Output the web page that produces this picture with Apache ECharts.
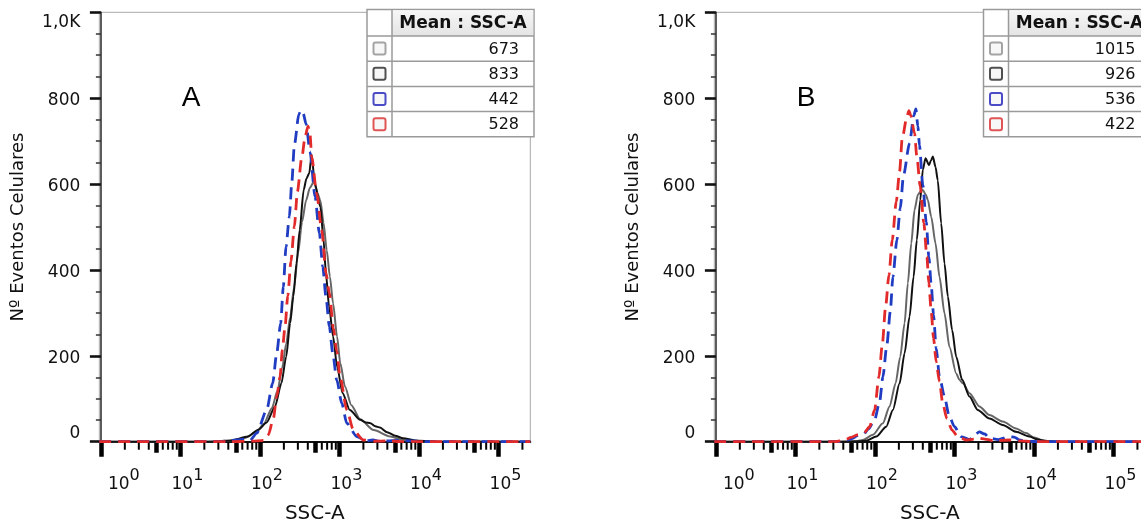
<!DOCTYPE html>
<html><head><meta charset="utf-8">
<script src="https://cdn.jsdelivr.net/npm/echarts@6/dist/echarts.min.js"></script>
<style>html,body{margin:0;padding:0;background:#fff}#c{width:1141px;height:529px}</style>
</head><body><div id="c"></div>
<script>
// ---------- data (x = log10(SSC-A), y = cell count) ----------
const decadeTicks = [0, 1, 2, 3, 4, 5];          // 10^0 ... 10^5
const midTickValues = [5, 50, 500, 5000, 50000]; // thick mid-decade ticks (raw SSC)
const minorMultipliers = [2, 3, 4, 6, 7, 8, 9];
const yTicks = [0, 200, 400, 600, 800, 1000];
const yTickText = ['0', '200', '400', '600', '800', '1,0K'];
const panelNames = ['A', 'B'];
const tableHeader = 'Mean : SSC-A';
const meansA = [673, 833, 442, 528];
const meansB = [1015, 926, 536, 422];

const A_gray = [[-0.02,0],[1.3,0],[1.6,2],[1.8,8],[1.95,22],[2.05,42],[2.15,78],[2.22,118],[2.28,172],[2.33,228],[2.38,290],[2.43,360],[2.48,440],[2.53,512],[2.58,562],[2.63,592],[2.68,606],[2.72,580],[2.76,562],[2.80,510],[2.84,446],[2.88,384],[2.92,322],[2.97,245],[3.01,183],[3.07,128],[3.15,85],[3.26,52],[3.43,27],[3.64,12],[3.8,4],[4.0,1],[4.3,0],[5.4,0]];
const A_black = [[-0.02,0],[1.4,0],[1.65,3],[1.85,12],[1.98,28],[2.085,45],[2.19,82],[2.27,136],[2.33,198],[2.38,276],[2.42,338],[2.46,415],[2.50,493],[2.55,586],[2.585,613],[2.62,625],[2.65,668],[2.69,602],[2.76,547],[2.80,470],[2.83,392],[2.87,314],[2.92,245],[2.97,175],[3.04,113],[3.13,74],[3.26,51],[3.33,45],[3.39,43],[3.45,36],[3.51,33],[3.6,22],[3.7,14],[3.8,8],[3.95,3],[4.2,0],[5.4,0]];
const A_blue = [[-0.02,0],[1.5,0],[1.7,4],[1.8,6],[1.875,3],[1.96,20],[2.085,74],[2.16,136],[2.211,206],[2.261,276],[2.294,361],[2.328,454],[2.37,524],[2.40,602],[2.433,691],[2.49,763],[2.515,772],[2.545,764],[2.58,740],[2.63,675],[2.693,571],[2.748,485],[2.79,408],[2.83,338],[2.873,268],[2.916,206],[2.966,144],[3.03,89],[3.092,43],[3.218,12],[3.34,2],[3.42,4],[3.5,1],[3.75,3],[3.9,2],[4.1,0],[5.4,0]];
const A_red = [[-0.02,0],[1.6,0],[1.9,1],[2.05,3],[2.106,16],[2.169,54],[2.211,105],[2.253,151],[2.282,214],[2.316,268],[2.35,340],[2.39,420],[2.433,501],[2.471,582],[2.525,660],[2.57,712],[2.605,735],[2.63,715],[2.651,664],[2.714,578],[2.777,493],[2.832,392],[2.873,346],[2.924,264],[2.966,210],[3.008,151],[3.092,74],[3.176,27],[3.30,4],[3.45,1],[3.6,2],[3.8,0],[5.4,0]];

const B_gray = [[-0.02,0],[1.5,0],[1.75,1],[1.85,4],[1.975,16],[2.1,43],[2.184,82],[2.26,136],[2.318,198],[2.373,276],[2.414,369],[2.457,462],[2.498,540],[2.54,575],[2.58,584],[2.602,586],[2.64,575],[2.665,563],[2.708,524],[2.762,462],[2.812,384],[2.875,299],[2.937,221],[3.022,159],[3.06,145],[3.105,136],[3.189,113],[3.314,82],[3.44,62],[3.607,47],[3.775,31],[3.9,20],[4.0,10],[4.1,4],[4.2,1],[4.35,0],[5.4,0]];
const B_black = [[-0.02,0],[1.6,0],[1.8,1],[1.89,2],[2.017,12],[2.142,35],[2.226,74],[2.31,136],[2.373,206],[2.435,291],[2.486,384],[2.527,470],[2.57,563],[2.602,633],[2.636,660],[2.68,644],[2.705,655],[2.728,664],[2.762,640],[2.79,609],[2.833,509],[2.875,415],[2.917,338],[2.971,260],[3.022,198],[3.097,144],[3.189,105],[3.293,74],[3.44,54],[3.607,39],[3.775,23],[3.94,12],[4.05,5],[4.15,1],[4.3,0],[5.4,0]];
const B_blue = [[-0.02,0],[1.55,0],[1.65,4],[1.72,8],[1.78,14],[1.849,16],[1.92,30],[1.996,51],[2.059,93],[2.1,151],[2.15,225],[2.193,303],[2.226,384],[2.276,470],[2.318,543],[2.36,621],[2.435,695],[2.49,760],[2.515,775],[2.54,735],[2.56,690],[2.602,598],[2.645,512],[2.678,431],[2.708,365],[2.737,295],[2.77,218],[2.812,151],[2.875,105],[2.93,62],[3.0,35],[3.084,12],[3.19,5],[3.25,15],[3.314,23],[3.38,18],[3.44,8],[3.55,5],[3.69,12],[3.76,10],[3.816,4],[3.9,1],[4.1,0],[5.4,0]];
const B_red = [[-0.02,0],[1.5,0],[1.62,4],[1.7,10],[1.78,16],[1.829,16],[1.87,22],[1.933,35],[1.996,74],[2.05,151],[2.092,225],[2.134,314],[2.176,388],[2.218,470],[2.268,559],[2.31,629],[2.343,706],[2.40,755],[2.427,771],[2.45,760],[2.498,718],[2.527,664],[2.57,594],[2.615,509],[2.653,431],[2.678,369],[2.708,303],[2.737,241],[2.77,186],[2.812,140],[2.853,89],[2.904,54],[2.97,27],[3.04,12],[3.15,4],[3.25,6],[3.31,8],[3.38,6],[3.5,2],[3.7,4],[3.8,2],[4.0,0],[5.4,0]];

const panelSeries = [[A_gray, A_black, A_blue, A_red], [B_gray, B_black, B_blue, B_red]];
const panelMeans = [meansA, meansB];

// ---------- styles ----------
const FONT = 'DejaVu Sans';
const lineColors = ['#666666', '#111111', '#1f3cc2', '#e22a2a'];
const boxColors = ['#a4a4a4', '#505050', '#4b4bc8', '#e05555'];
const dashed = [false, false, true, true];
const X_MIN = -0.02, X_MAX = 5.4;
const gridLefts = [99.3, 714.3];
const GRID_TOP = 12.3, GRID_H = 429.4, GRID_W = 431;
const tableLefts = [367, 983.5];

const midTicks = midTickValues.map(v => Math.log10(v));
const minorTicks = [];
for (let n = 0; n <= 5; n++) for (const k of minorMultipliers) {
  const e = Math.log10(k * Math.pow(10, n));
  if (e <= X_MAX) minorTicks.push(e);
}

const grids = [], xAxes = [], yAxes = [], series = [], graphics = [];
gridLefts.forEach((left, p) => {
  grids.push({ left: left, top: GRID_TOP, width: GRID_W, height: GRID_H, show: true,
    borderColor: '#a8a8a8', borderWidth: 1, backgroundColor: 'transparent', containLabel: false, outerBoundsMode: 'none' });
  const baseX = { type: 'value', gridIndex: p, min: X_MIN, max: X_MAX, position: 'bottom', splitLine: { show: false } };
  const mainIndex = xAxes.length;
  xAxes.push(Object.assign({}, baseX, {
    axisLine: { show: true, onZero: false, lineStyle: { color: '#111', width: 2 } },
    axisTick: { show: true, customValues: decadeTicks, length: 15, lineStyle: { color: '#000', width: 4.5 } },
    axisLabel: { show: true, customValues: decadeTicks, margin: 26, color: '#111',
      formatter: v => { const e = Math.round(v); return (e === 0 ? '{p|10}' : '{b|10}') + '{s|' + decadeTicks[e] + '}'; },
      rich: {
        b: { fontFamily: FONT, fontSize: 17, lineHeight: 33, verticalAlign: 'middle', color: '#111', padding: [0, 0, 0, 14] },
        p: { fontFamily: FONT, fontSize: 17, lineHeight: 33, verticalAlign: 'middle', color: '#111', padding: [0, 0, 0, 46] },
        s: { fontFamily: FONT, fontSize: 16, lineHeight: 12, verticalAlign: 'top', color: '#111' }
      } },
    name: 'SSC-A', nameLocation: 'middle', nameGap: 62,
    nameTextStyle: { fontFamily: FONT, fontSize: 20, color: '#111' }
  }));
  xAxes.push(Object.assign({}, baseX, {
    axisLine: { show: false },
    axisTick: { show: true, customValues: midTicks, length: 11, lineStyle: { color: '#000', width: 4.5 } },
    axisLabel: { show: false }
  }));
  yAxes.push({ type: 'value', gridIndex: p, min: 0, max: 1000, interval: 200, position: 'left',
    splitLine: { show: false },
    axisLine: { show: true, lineStyle: { color: '#333', width: 1.6 } },
    axisTick: { show: true, length: 11, lineStyle: { color: '#111', width: 2.6 } },
    minorTick: { show: true, splitNumber: 4, length: 5, lineStyle: { color: '#333', width: 1.5 } },
    axisLabel: { margin: 19, color: '#111',
      formatter: v => { const i = yTicks.indexOf(v); const t = yTickText[i];
        return v === 0 ? '{z|' + t + '}' : (v === 1000 ? '{k|' + t + '}' : '{n|' + t + '}'); },
      rich: {
        n: { fontFamily: FONT, fontSize: 17, color: '#111', padding: [5, 0, 0, 0] },
        z: { fontFamily: FONT, fontSize: 17, color: '#111', padding: [0, 0, 16, 0] },
        k: { fontFamily: FONT, fontSize: 17, color: '#111', padding: [20, 0, 0, 0] }
      } },
    name: 'Nº Eventos Celulares', nameLocation: 'middle', nameGap: 72,
    nameTextStyle: { fontFamily: FONT, fontSize: 18, color: '#111' }
  });
  // minor log ticks (2..4, 6..9 x 10^n), placed through the x scale
  series.push({ type: 'custom', xAxisIndex: mainIndex, yAxisIndex: p, clip: false, silent: true, z: 20,
    data: minorTicks.map(e => [e, 0]),
    renderItem: (params, api) => {
      const pt = api.coord([api.value(0), 0]);
      return { type: 'line', shape: { x1: pt[0], y1: pt[1] + 1, x2: pt[0], y2: pt[1] + 8 },
        style: { stroke: '#000', lineWidth: 2 } };
    } });
  panelSeries[p].forEach((d, i) => {
    series.push({ type: 'line', xAxisIndex: mainIndex, yAxisIndex: p, data: d, showSymbol: false,
      smooth: 0.25, smoothMonotone: 'x', z: 2 + i,
      lineStyle: { color: lineColors[i], width: dashed[i] ? 2.8 : 2, type: dashed[i] ? [12, 7] : 'solid' } });
  });

  // mean table (legend)
  const L = tableLefts[p], D = L + 25, R = L + 167, T = 9.5, H = 36, RH = 25.2;
  const B = H + 4 * RH;
  const els = [];
  els.push({ type: 'rect', shape: { x: L, y: T, width: R - L, height: B - T }, style: { fill: '#fff', stroke: '#9a9a9a', lineWidth: 1.5 } });
  els.push({ type: 'rect', shape: { x: D, y: T + 0.75, width: R - D - 0.75, height: H - T - 0.75 },
    style: { fill: new echarts.graphic.LinearGradient(0, 0, 0, 1, [{ offset: 0, color: '#f6f6f6' }, { offset: 1, color: '#e4e4e4' }]) } });
  els.push({ type: 'line', shape: { x1: D, y1: T, x2: D, y2: B }, style: { stroke: '#9a9a9a', lineWidth: 1.5 } });
  for (let r = 0; r < 4; r++) {
    const y = H + r * RH;
    els.push({ type: 'line', shape: { x1: L, y1: y, x2: R, y2: y }, style: { stroke: '#9a9a9a', lineWidth: 1.5 } });
  }
  els.push({ type: 'text', x: (D + R) / 2, y: (T + H) / 2 + 1,
    style: { text: tableHeader, fontFamily: FONT, fontWeight: 'bold', fontSize: 17, fill: '#111', align: 'center', verticalAlign: 'middle' } });
  panelMeans[p].forEach((m, r) => {
    const cy = H + r * RH + RH / 2;
    els.push({ type: 'rect', shape: { x: (L + D) / 2 - 6, y: cy - 6, width: 12, height: 12, r: 2 },
      style: { fill: '#f7f7f7', stroke: boxColors[r], lineWidth: 2 } });
    els.push({ type: 'text', x: R - 15, y: cy + 1,
      style: { text: String(m), fontFamily: FONT, fontSize: 16, fill: '#111', align: 'right', verticalAlign: 'middle' } });
  });
  graphics.push({ type: 'group', z: 100, children: els });
  graphics.push({ type: 'text', z: 100, x: left + 91.7, y: 98,
    style: { text: panelNames[p], fontFamily: 'Liberation Sans', fontSize: 28, fill: '#000', align: 'center', verticalAlign: 'middle' } });
});

const chart = echarts.init(document.getElementById('c'), null, { renderer: 'canvas' });
chart.setOption({
  animation: false,
  backgroundColor: '#fff',
  textStyle: { fontFamily: FONT },
  grid: grids, xAxis: xAxes, yAxis: yAxes, series: series, graphic: graphics
});
</script></body></html>
